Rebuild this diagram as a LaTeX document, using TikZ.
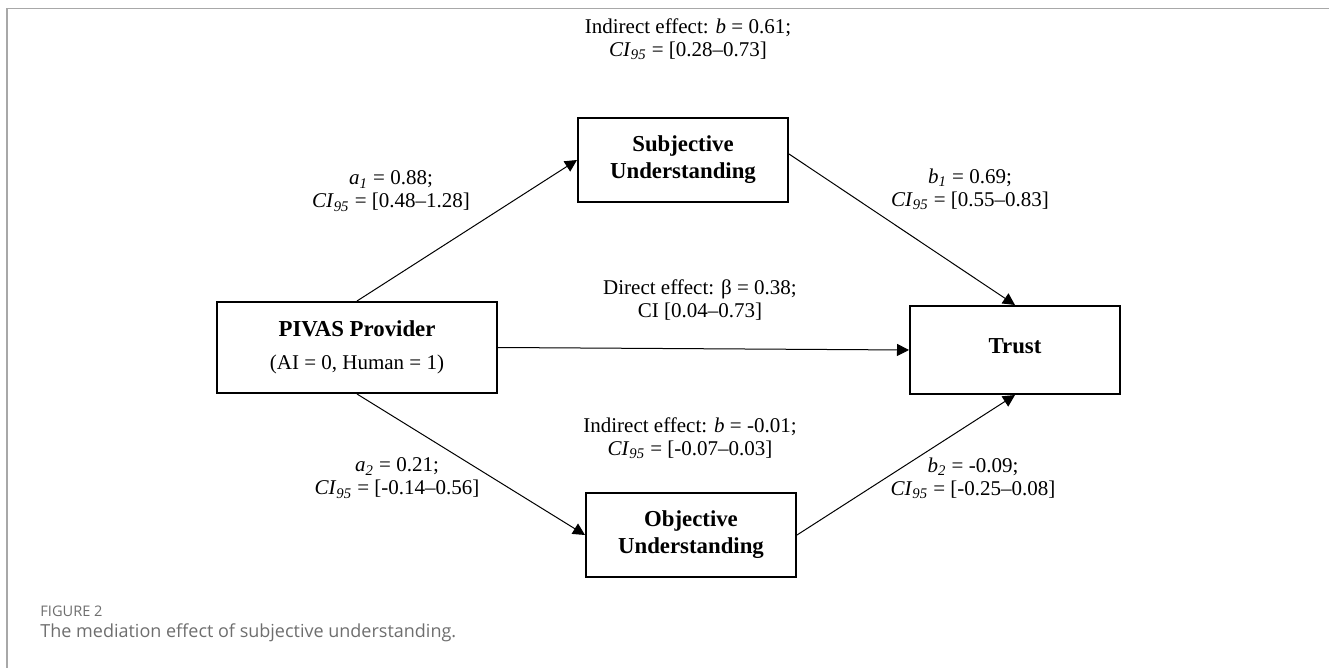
\documentclass[tikz,border=0pt]{standalone}
\usepackage{fontspec}
\setmainfont{Liberation Serif}
\newfontfamily\capfont{Open Sans}
\usetikzlibrary{positioning,arrows.meta}

\definecolor{framegray}{HTML}{A8A8A8}
\definecolor{capgray}{HTML}{6E6E6E}

\newcommand{\cinf}{\textit{CI}\textsubscript{\textit{95}}}

\begin{document}
\begin{tikzpicture}[x=0.5pt,y=-0.5pt,
  every node/.style={inner sep=0pt},
  varbox/.style={draw,line width=1pt,minimum width=105pt,minimum height=42pt,
    align=center,font=\fontsize{11.4}{13.5}\selectfont\bfseries},
  coef/.style={align=center,font=\fontsize{10.5}{11.5}\selectfont},
  effect/.style={line width=0.5pt,-{Triangle[length=6pt,width=6pt]}}
]
\useasboundingbox (0,0) rectangle (1329,668);

% the frame
\draw[framegray,line width=0.8pt] (1329,8.5) -- (7,8.5) -- (7,668);

% the variables
\node[varbox] (subj) at (683,160) {Subjective\\Understanding};
\node[varbox,minimum width=140pt,minimum height=45.5pt] (pivas) at (357,347.5)
  {PIVAS Provider\\[3pt]{\normalfont\fontsize{10.5}{11.5}\selectfont(AI = 0, Human = 1)}};
\node[varbox,minimum height=44pt,text depth=4pt] (trust) at (1015,350) {Trust};
\node[varbox] (obj) at (691,535) {Objective\\Understanding};

% the paths
\draw[effect] ([yshift=3pt]subj.east) -- (trust.north);
\draw[effect] (pivas.north) -- (subj.west);
\draw[effect] (pivas.east) -- (trust.west);
\draw[effect] (pivas.south) -- (obj.west);
\draw[effect] (obj.east) -- (trust.south);

% the coefficients
\node[coef] (indtop) at (688,39) {Indirect effect: \textit{b} = 0.61;\\\cinf{} = [0.28--0.73]};
\node[coef] (aone) at (391,191) {\textit{a}\textsubscript{\textit{1}} = 0.88;\\\cinf{} = [0.48--1.28]};
\node[coef] (bone) at (970,189) {\textit{b}\textsubscript{\textit{1}} = 0.69;\\\cinf{} = [0.55--0.83]};
\node[coef] (direct) at (700,300) {Direct effect: β = 0.38;\\CI [0.04--0.73]};
\node[coef] (indbot) at (690,438) {Indirect effect: \textit{b} = -0.01;\\\cinf{} = [-0.07--0.03]};
\node[coef] (atwo) at (397,478) {\textit{a}\textsubscript{\textit{2}} = 0.21;\\\cinf{} = [-0.14--0.56]};
\node[coef] (btwo) at (973,478) {\textit{b}\textsubscript{\textit{2}} = -0.09;\\\cinf{} = [-0.25--0.08]};

% the caption
\node[anchor=west,text=capgray,font=\capfont\fontsize{7.3}{8}\selectfont] (fig) at (40,611) {FIGURE 2};
\node[anchor=west,text=capgray,font=\capfont\fontsize{9}{11}\selectfont] (cap) at (40,633) {The mediation effect of subjective understanding.};

\end{tikzpicture}
\end{document}
